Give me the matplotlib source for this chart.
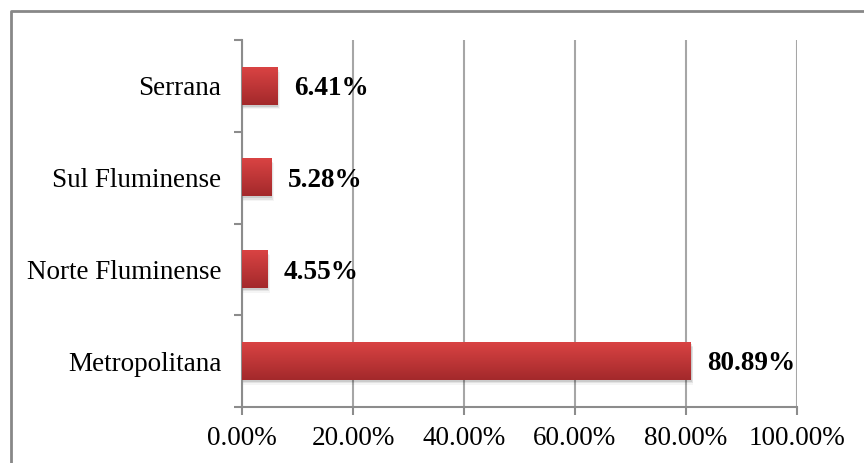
import matplotlib
matplotlib.use("Agg")
import matplotlib.pyplot as plt
import numpy as np
from matplotlib.colors import LinearSegmentedColormap
from matplotlib.lines import Line2D
from matplotlib.patches import Rectangle
from matplotlib.ticker import FixedLocator, FuncFormatter

categories = ["Metropolitana", "Norte Fluminense", "Sul Fluminense", "Serrana"]
values = [80.89, 4.55, 5.28, 6.41]
xticks = [0, 20, 40, 60, 80, 100]

plt.rcParams['font.family'] = ['Liberation Serif', 'DejaVu Serif']

fig = plt.figure(figsize=(8.64, 4.63), dpi=100)
ax = fig.add_axes([242/864, 56/463, 555/864, 367/463])

ypos = np.arange(len(categories))
bars = ax.barh(ypos, values, height=0.41, color='#C0392B', zorder=3)

ax.set_xlim(0, 100)
ax.set_ylim(-0.5, len(categories) - 0.5)

cmap = LinearSegmentedColormap.from_list('g', ['#A3292B', '#D94343'])
grad = np.linspace(0, 1, 64).reshape(-1, 1)
for b in bars:
    x0, y0 = b.get_x(), b.get_y()
    w, h = b.get_width(), b.get_height()
    # soft shadow
    for i, a in enumerate([0.10, 0.07, 0.04]):
        off = 0.02 + 0.015 * i
        ax.add_patch(Rectangle((x0, y0 - off), w + 0.15 * (i + 1), h, color='black', alpha=a,
                               lw=0, zorder=2))
    ax.imshow(grad, extent=(x0, x0 + w, y0, y0 + h), origin='lower', cmap=cmap,
              aspect='auto', zorder=4)
    b.set_visible(False)

ax.set_xlim(0, 100)
ax.set_ylim(-0.5, len(categories) - 0.5)

for b, v in zip(bars, values):
    ax.annotate(f"{v:.2f}%", (b.get_width(), b.get_y() + b.get_height() / 2),
                xytext=(12, -2), textcoords='offset points', va='center', ha='left',
                fontsize=19.5, fontweight='bold', color='black', zorder=5)

ax.xaxis.set_major_locator(FixedLocator(xticks))
ax.xaxis.set_major_formatter(FuncFormatter(lambda v, p: f"{v:.2f}%"))
ax.grid(axis='x', color='#A6A6A6', linewidth=1.5, zorder=1)
ax.set_axisbelow(True)

ax.set_yticks(ypos)
ax.set_yticklabels(categories)
ax.set_yticks(np.arange(-0.5, len(categories)), minor=True)
ax.tick_params(axis='y', which='major', length=0, pad=15, labelsize=19.5)
ax.tick_params(axis='y', which='minor', length=6, width=1.5, color='#8C8C8C')
ax.tick_params(axis='x', which='major', length=6, width=1.5, color='#8C8C8C', pad=8, labelsize=19.5)

for s in ['top', 'right']:
    ax.spines[s].set_visible(False)
for s in ['left', 'bottom']:
    ax.spines[s].set_color('#8C8C8C')
    ax.spines[s].set_linewidth(1.5)

bx, by = 11/864, 1 - 11/463
fig.add_artist(Line2D([bx, bx, 1.0], [0.0, by, by], transform=fig.transFigure,
                      color='#888888', linewidth=2))

fig.savefig("out.png", dpi=100)
